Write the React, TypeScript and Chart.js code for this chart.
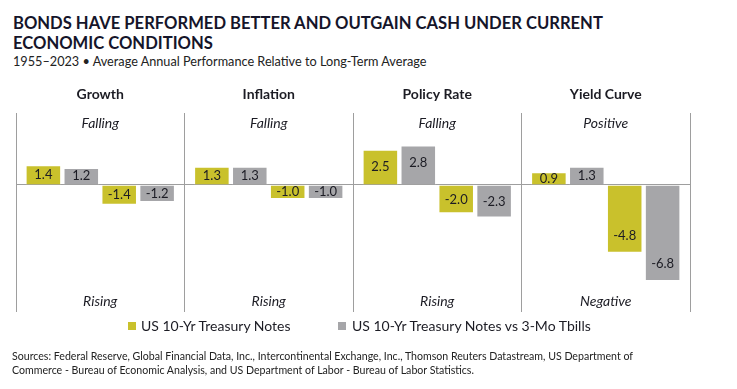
import React, { useEffect, useRef } from "react";
import { Chart, registerables } from "chart.js";

Chart.register(...registerables);

// ---- data ----
const panels = ["Growth", "Inflation", "Policy Rate", "Yield Curve"];
const upperStates = ["Falling", "Falling", "Falling", "Positive"];
const lowerStates = ["Rising", "Rising", "Rising", "Negative"];
const notesUpper = [1.4, 1.3, 2.5, 0.9];
const vsBillsUpper = [1.2, 1.3, 2.8, 1.3];
const notesLower = [-1.4, -1.0, -2.0, -4.8];
const vsBillsLower = [-1.2, -1.0, -2.3, -6.8];
const seriesNames = ["US 10-Yr Treasury Notes", "US 10-Yr Treasury Notes vs 3-Mo Tbills"];
const yMin = -9;
const yMax = 5.1;

const YELLOW = "#C9C12C";
const GRAY = "#A6A6A9";
const LINE = "#9e9e9e";
const TEXT = "#1c1c24";
const FONT = "Lato, 'Open Sans', sans-serif";

const annotate = {
  id: "annotate",
  afterDatasetsDraw(chart: any) {
    const { ctx, chartArea } = chart;
    const x = chart.scales.x;
    ctx.save();
    ctx.fillStyle = TEXT;
    ctx.textAlign = "center";
    ctx.textBaseline = "middle";
    ctx.font = `italic 14px ${FONT}`;
    panels.forEach((_, i) => {
      const cx = x.getPixelForValue(i);
      ctx.fillText(upperStates[i], cx, chartArea.top + 10);
      ctx.fillText(lowerStates[i], cx, chartArea.bottom - 10.5);
    });
    ctx.font = `13px ${FONT}`;
    chart.data.datasets.forEach((ds: any, di: number) => {
      const meta = chart.getDatasetMeta(di);
      meta.data.forEach((bar: any, i: number) => {
        const v = ds.data[i] as number;
        const { x: bx, y: by, base } = bar.getProps(["x", "y", "base"], true);
        const h = Math.abs(base - by);
        const off = Math.min(17, h / 2);
        const ty = v >= 0 ? by + off : by - off;
        ctx.fillText(v.toFixed(1), bx, ty);
      });
    });
    ctx.restore();
  },
};

function ChartCanvas() {
  const ref = useRef<HTMLCanvasElement | null>(null);
  useEffect(() => {
    if (!ref.current) return;
    const barOpts = {
      categoryPercentage: 0.9,
      barPercentage: 0.937,
      borderWidth: 1,
      borderColor: "rgba(255,255,255,0.45)",
    };
    const chart = new Chart(ref.current, {
      type: "bar",
      data: {
        labels: panels,
        datasets: [
          { label: seriesNames[0], data: notesUpper, backgroundColor: YELLOW, ...barOpts },
          { label: seriesNames[1], data: vsBillsUpper, backgroundColor: GRAY, ...barOpts },
          { label: seriesNames[0], data: notesLower, backgroundColor: YELLOW, ...barOpts },
          { label: seriesNames[1], data: vsBillsLower, backgroundColor: GRAY, ...barOpts },
        ],
      },
      options: {
        responsive: false,
        animation: false,
        devicePixelRatio: 1,
        layout: { padding: { left: 16, right: 47, top: 73, bottom: 77 } },
        plugins: {
          legend: { display: false },
          tooltip: { enabled: false },
          title: { display: false },
        },
        scales: {
          x: {
            type: "category",
            position: "top",
            offset: true,
            grid: { offset: true, color: LINE, lineWidth: 1, drawTicks: false },
            border: { display: false },
            ticks: {
              color: TEXT,
              padding: 10.5,
              font: { family: FONT, size: 14, weight: "bold" },
            },
            afterFit: (axis: any) => {
              axis.height = 40;
            },
          },
          y: {
            min: yMin,
            max: yMax,
            position: "left",
            grid: {
              color: (c: any) => (c.tick && c.tick.value === 0 ? LINE : "rgba(0,0,0,0)"),
              lineWidth: 1,
              drawTicks: false,
            },
            border: { display: false },
            ticks: { display: false },
            afterBuildTicks: (axis: any) => {
              axis.ticks = [{ value: 0 }];
            },
            afterFit: (axis: any) => {
              axis.width = 0;
            },
          },
        },
      },
      plugins: [annotate],
    });
    return () => chart.destroy();
  }, []);
  return (
    <canvas
      ref={ref}
      width={737}
      height={389}
      style={{ position: "absolute", left: 0, top: 0, width: 737, height: 389 }}
    />
  );
}

export default function App() {
  const legendText: React.CSSProperties = {
    position: "absolute",
    top: 318,
    fontFamily: FONT,
    fontSize: 14,
    lineHeight: "16px",
    color: TEXT,
    whiteSpace: "nowrap",
  };
  const sq = (left: number, color: string): React.CSSProperties => ({
    position: "absolute",
    left,
    top: 322,
    width: 8,
    height: 8,
    background: color,
  });
  return (
    <div
      style={{
        position: "fixed",
        left: 0,
        top: 0,
        width: 737,
        height: 389,
        background: "#fff",
        overflow: "hidden",
      }}
    >
      <div
        style={{
          position: "absolute",
          left: 13,
          top: 13,
          fontFamily: FONT,
          fontWeight: 700,
          fontSize: 16.6,
          lineHeight: "20px",
          color: "#15152a",
          whiteSpace: "nowrap",
        }}
      >
        BONDS HAVE PERFORMED BETTER AND OUTGAIN CASH UNDER CURRENT
        <br />
        ECONOMIC CONDITIONS
      </div>
      <div
        style={{
          position: "absolute",
          left: 13,
          top: 54,
          fontFamily: FONT,
          fontSize: 12.7,
          lineHeight: "14px",
          color: "#222",
          whiteSpace: "nowrap",
        }}
      >
        1955–2023 • Average Annual Performance Relative to Long-Term Average
      </div>
      <ChartCanvas />
      <div style={sq(128, YELLOW)} />
      <div style={{ ...legendText, left: 141 }}>{seriesNames[0]}</div>
      <div style={sq(338, GRAY)} />
      <div style={{ ...legendText, left: 352 }}>{seriesNames[1]}</div>
      <div
        style={{
          position: "absolute",
          left: 12,
          top: 349,
          fontFamily: FONT,
          fontSize: 10.6,
          lineHeight: "14px",
          color: "#222",
          whiteSpace: "nowrap",
        }}
      >
        Sources: Federal Reserve, Global Financial Data, Inc., Intercontinental Exchange, Inc., Thomson Reuters Datastream, US Department of
        <br />
        Commerce - Bureau of Economic Analysis, and US Department of Labor - Bureau of Labor Statistics.
      </div>
    </div>
  );
}
